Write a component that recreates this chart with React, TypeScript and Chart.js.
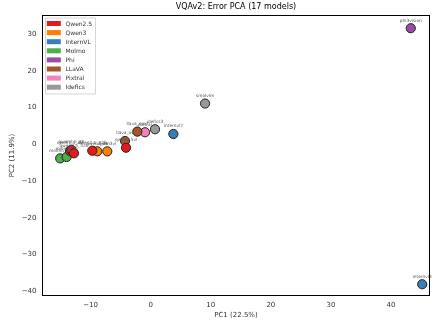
import React, { useEffect, useRef } from "react";
import { Chart, registerables } from "chart.js";

Chart.register(...registerables);

const families = ["Qwen2.5", "Qwen3", "InternVL", "Molmo", "Phi", "LLaVA", "Pixtral", "Idefics"];
const familyColors = ["#e41a1c", "#ff7f00", "#377eb8", "#4daf4a", "#984ea3", "#a65628", "#f781bf", "#999999"];

const modelNames = [
  "qwen2.5_3b", "qwen2.5_7b", "qwen2.5_32b", "qwen2.5_72b", "qwen2.5vl",
  "qwen3_4b", "qwen3vl",
  "internvl2", "internvl3",
  "molmo_7b", "molmo_1b",
  "phi3vision",
  "llava_ov", "llava_next",
  "pixtral",
  "idefics3", "smolvlm",
];
const modelFamily = [
  "Qwen2.5", "Qwen2.5", "Qwen2.5", "Qwen2.5", "Qwen2.5",
  "Qwen3", "Qwen3",
  "InternVL", "InternVL",
  "Molmo", "Molmo",
  "Phi",
  "LLaVA", "LLaVA",
  "Pixtral",
  "Idefics", "Idefics",
];
const pc1 = [-13.45, -13.2, -12.78, -9.73, -4.11, -8.9, -7.23, 3.77, 45.2, -15.07, -14.0, 43.3, -4.28, -2.23, -0.95, 0.72, 9.05];
const pc2 = [-1.83, -1.5, -2.45, -1.74, -0.93, -1.91, -1.91, 2.81, -38.1, -3.83, -3.46, 31.6, 0.9, 3.45, 3.27, 4.1, 11.1];

const xTicks = [-10, 0, 10, 20, 30, 40];
const yTicks = [-40, -30, -20, -10, 0, 10, 20, 30];

const titleText = "VQAv2: Error PCA (17 models)";
const xTitle = "PC1 (22.5%)";
const yTitle = "PC2 (11.9%)";

const fmt = (v: number) => (v < 0 ? "\u2212" + Math.abs(v) : String(v));

export default function App() {
  const ref = useRef<HTMLCanvasElement | null>(null);
  useEffect(() => {
    document.body.style.margin = "0";
    const canvas = ref.current!;
    const datasets = families.map((f, fi) => {
      const data: { x: number; y: number; label: string }[] = [];
      modelNames.forEach((m, i) => {
        if (modelFamily[i] === f) data.push({ x: pc1[i], y: pc2[i], label: m });
      });
      return {
        label: f,
        data,
        backgroundColor: familyColors[fi],
        borderColor: "#222222",
        borderWidth: 1,
        pointRadius: 4.6,
        pointHoverRadius: 4.6,
      };
    });

    const overlay = {
      id: "overlay",
      afterDatasetsDraw(chart: any) {
        const ctx = chart.ctx;
        const xs = chart.scales.x;
        const ys = chart.scales.y;
        ctx.save();
        ctx.font = "4.3px 'DejaVu Sans'";
        ctx.fillStyle = "#555555";
        ctx.textAlign = "center";
        ctx.textBaseline = "bottom";
        modelNames.forEach((m, i) => {
          ctx.fillText(m, xs.getPixelForValue(pc1[i]), ys.getPixelForValue(pc2[i]) - 5.5);
        });
        ctx.restore();
      },
      afterDraw(chart: any) {
        const ctx = chart.ctx;
        const a = chart.chartArea;
        ctx.save();
        // frame
        ctx.strokeStyle = "#000000";
        ctx.lineWidth = 1;
        ctx.strokeRect(a.left + 0.5, a.top + 0.5, a.right - a.left - 1, a.bottom - a.top - 1);
        // title
        ctx.fillStyle = "#000000";
        ctx.font = "8px 'DejaVu Sans'";
        ctx.textAlign = "center";
        ctx.textBaseline = "middle";
        ctx.fillText(titleText, (a.left + a.right) / 2, 6.5);
        // axis titles
        ctx.fillStyle = "#333333";
        ctx.font = "7px 'DejaVu Sans'";
        ctx.fillText(xTitle, (a.left + a.right) / 2, 315.5);
        ctx.save();
        ctx.translate(12, (a.top + a.bottom) / 2);
        ctx.rotate(-Math.PI / 2);
        ctx.fillText(yTitle, 0, 0);
        ctx.restore();
        // legend
        const lx = a.left + 3, ly = a.top + 2.5;
        const lw = 50, lh = 76;
        ctx.fillStyle = "rgba(255,255,255,0.85)";
        ctx.strokeStyle = "#cccccc";
        ctx.lineWidth = 0.8;
        ctx.beginPath();
        ctx.rect(lx + 0.5, ly + 0.5, lw, lh);
        ctx.fill();
        ctx.stroke();
        ctx.font = "6px 'DejaVu Sans'";
        ctx.textAlign = "left";
        ctx.textBaseline = "middle";
        families.forEach((f, i) => {
          const cy = ly + 6 + i * 9.1;
          ctx.fillStyle = familyColors[i];
          ctx.fillRect(lx + 1.8, cy - 2.5, 14, 5);
          ctx.fillStyle = "#333333";
          ctx.fillText(f, lx + 20.5, cy + 0.5);
        });
        ctx.restore();
      },
    };

    const chart = new Chart(canvas, {
      type: "scatter",
      data: { datasets },
      options: {
        animation: false,
        responsive: false,
        layout: { padding: { top: 15, right: 6, left: 0, bottom: 0 } },
        plugins: { legend: { display: false }, tooltip: { enabled: false }, title: { display: false } },
        scales: {
          x: {
            type: "linear",
            min: -18.1,
            max: 46.5,
            grid: { display: false, drawTicks: true, tickLength: 3.5, tickColor: "#000" } as any,
            border: { display: false },
            afterBuildTicks: (s: any) => { s.ticks = xTicks.map((v) => ({ value: v })); },
            afterFit: (s: any) => { s.height = 27; },
            ticks: { color: "#333333", font: { size: 7, family: "'DejaVu Sans'" }, padding: 1.5, maxRotation: 0, callback: (v: any) => fmt(Number(v)) },
            title: { display: false },
          },
          y: {
            type: "linear",
            min: -41.3,
            max: 35.2,
            grid: { display: false, drawTicks: true, tickLength: 3.5, tickColor: "#000" } as any,
            border: { display: false },
            afterBuildTicks: (s: any) => { s.ticks = yTicks.map((v) => ({ value: v })); },
            afterFit: (s: any) => { s.width = 42; },
            ticks: { color: "#333333", font: { size: 7, family: "'DejaVu Sans'" }, padding: 2, callback: (v: any) => fmt(Number(v)) },
            title: { display: false },
          },
        },
      },
      plugins: [overlay],
    } as any);
    return () => chart.destroy();
  }, []);
  return (
    <div style={{ position: "absolute", left: 0, top: 0, width: 436, height: 323 }}>
      <canvas ref={ref} width={436} height={323} style={{ width: 436, height: 323 }} />
    </div>
  );
}
